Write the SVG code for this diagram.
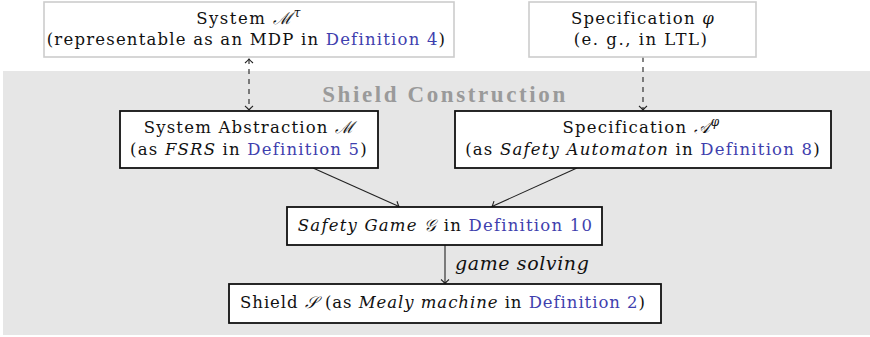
<svg xmlns="http://www.w3.org/2000/svg" width="870" height="337" viewBox="0 0 870 337">
  <defs>
    <style>
      .t { font-family: 'DejaVu Serif', serif; font-size: 16.5px; fill: #111; text-anchor: middle; letter-spacing: 1.2px; }
      .tn { letter-spacing: 0.95px; }
      .tw { letter-spacing: 1.5px; }
      .it { font-style: italic; }
      .sup { font-style: italic; font-size: 12px; }
      .ref { fill: #3f3fae; }
      .cal { font-style: italic; }
      .outer { fill: #fff; stroke: #cccccc; stroke-width: 1.6; }
      .inner { fill: #fff; stroke: #111; stroke-width: 1.8; }
      .title { font-family: 'Liberation Serif', serif; font-weight: bold; font-size: 23px; fill: #9a9a9a; text-anchor: middle; letter-spacing: 2.6px; }
      .edge { fill: none; stroke: #222; stroke-width: 1.1; }
      .dash { stroke-dasharray: 5 5; }
      .label { font-family: 'DejaVu Serif', serif; font-style: italic; font-size: 19px; fill: #111; letter-spacing: 0.6px; }
    </style>
    <marker id="to" viewBox="-5 -5 7 10" refX="0" refY="0" markerWidth="7" markerHeight="10" markerUnits="userSpaceOnUse" orient="auto-start-reverse">
      <path d="M -4,-4 Q -1,-0.6 0,0 Q -1,0.6 -4,4" fill="none" stroke="#222" stroke-width="1.1"/>
    </marker>
  </defs>

  <!-- shaded construction area -->
  <rect x="3" y="71" width="867" height="264" fill="#e6e6e6"/>
  <text class="title" x="445" y="102">Shield Construction</text>

  <!-- connectors -->
  <g id="connectors">
    <line class="edge dash" x1="249" y1="59" x2="249" y2="110" marker-start="url(#to)" marker-end="url(#to)"/>
    <line class="edge dash" x1="643" y1="57" x2="643" y2="110" marker-end="url(#to)"/>
    <line class="edge" x1="313" y1="168" x2="399" y2="206.5" marker-end="url(#to)"/>
    <line class="edge" x1="577" y1="168" x2="492" y2="206.5" marker-end="url(#to)"/>
    <line class="edge" x1="445" y1="245" x2="445" y2="283.5" marker-end="url(#to)"/>
    <text class="label" x="455" y="270">game solving</text>
  </g>

  <g id="system">
    <rect class="outer" x="44" y="2" width="410" height="55"/>
    <text class="t tw" x="249" y="23.5">System <tspan class="cal">ℳ</tspan><tspan class="sup" dy="-7">τ</tspan></text>
    <text class="t" x="246.5" y="44.5">(representable as an MDP in <tspan class="ref">Definition 4</tspan>)</text>
  </g>

  <g id="specification">
    <rect class="outer" x="529" y="2" width="227" height="55"/>
    <text class="t" x="643" y="23.5">Specification <tspan class="it">φ</tspan></text>
    <text class="t tw" x="641" y="44.5">(e. g., in LTL)</text>
  </g>

  <g id="system-abstraction">
    <rect class="inner" x="120" y="111" width="258" height="57"/>
    <text class="t" x="249.5" y="133">System Abstraction <tspan class="cal">ℳ</tspan></text>
    <text class="t" x="249" y="155">(as <tspan class="it">FSRS</tspan> in <tspan class="ref">Definition 5</tspan>)</text>
  </g>

  <g id="safety-automaton">
    <rect class="inner" x="455" y="111" width="376" height="57"/>
    <text class="t" x="641.5" y="133">Specification <tspan class="cal">𝒜</tspan><tspan class="sup" dy="-7">φ</tspan></text>
    <text class="t" x="643" y="155">(as <tspan class="it">Safety Automaton</tspan> in <tspan class="ref">Definition 8</tspan>)</text>
  </g>

  <g id="safety-game">
    <rect class="inner" x="287" y="207" width="315" height="38"/>
    <text class="t" x="445.5" y="231"><tspan class="it">Safety Game</tspan> <tspan class="cal">𝒢</tspan> in <tspan class="ref">Definition 10</tspan></text>
  </g>

  <g id="shield">
    <rect class="inner" x="229" y="284" width="432" height="39"/>
    <text class="t tn" x="443" y="308">Shield <tspan class="cal">𝒮</tspan> (as <tspan class="it">Mealy machine</tspan> in <tspan class="ref">Definition 2</tspan>)</text>
  </g>
</svg>
